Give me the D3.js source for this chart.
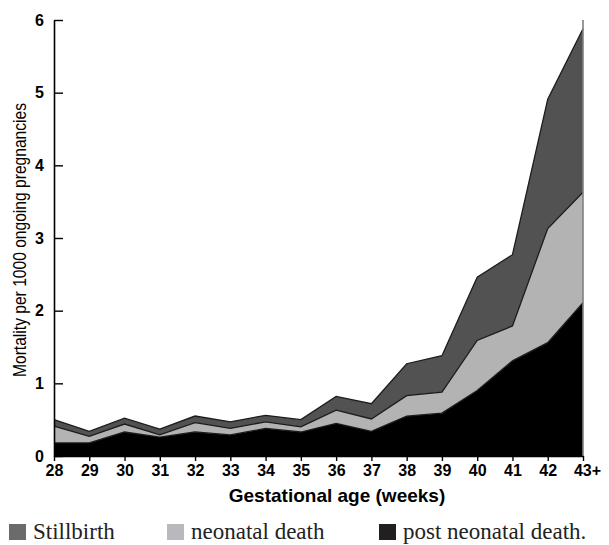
<!DOCTYPE html>
<html>
<head>
<meta charset="utf-8">
<script src="https://cdn.jsdelivr.net/npm/d3@7"></script>
<style>
  body { margin: 0; background: #fff; }
  svg { display: block; }
</style>
</head>
<body>
<div id="chart"></div>
<script>
// gestational age categories (x axis)
var weeks = ["28","29","30","31","32","33","34","35","36","37","38","39","40","41","42","43+"];

// mortality per 1000 ongoing pregnancies
var postNeonatal = [0.18,0.18,0.33,0.26,0.33,0.29,0.38,0.33,0.45,0.34,0.55,0.59,0.90,1.31,1.56,2.11];
var neonatal     = [0.23,0.09,0.11,0.03,0.13,0.09,0.09,0.07,0.18,0.17,0.28,0.29,0.69,0.48,1.57,1.52];
var stillbirth   = [0.09,0.07,0.08,0.08,0.09,0.09,0.09,0.10,0.19,0.21,0.44,0.50,0.87,0.98,1.78,2.25];

var yTicks = [0,1,2,3,4,5,6];
var legendLabels = ["Stillbirth", "neonatal death", "post neonatal death."];

var width = 609, height = 545;
var x0 = 54, x1 = 583, yBase = 456, yTop = 20;

var svg = d3.select("#chart")
  .append("svg")
    .attr("width", width)
    .attr("height", height);

// build rows for the stack
var data = weeks.map(function (w, i) {
  return { week: w, post: postNeonatal[i], neo: neonatal[i], still: stillbirth[i] };
});
var keys = ["post", "neo", "still"];
var fills = { post: "#000000", neo: "#b3b3b3", still: "#525252" };

var x = d3.scalePoint().domain(weeks).range([x0, x1]);
var y = d3.scaleLinear().domain([0, 6]).range([yBase, yTop]);

var stacked = d3.stack().keys(keys)(data);

var area = d3.area()
  .x(function (d) { return x(d.data.week); })
  .y0(function (d) { return y(d[0]); })
  .y1(function (d) { return y(d[1]); });

var topLine = d3.line()
  .x(function (d) { return x(d.data.week); })
  .y(function (d) { return y(d[1]); });

svg.append("g")
  .selectAll("path")
  .data(stacked)
  .enter()
  .append("path")
    .attr("fill", function (d) { return fills[d.key]; })
    .attr("d", area);

// dark outline along each layer's upper edge
svg.append("g")
  .selectAll("path")
  .data(stacked)
  .enter()
  .append("path")
    .attr("fill", "none")
    .attr("stroke", "#1c1c1c")
    .attr("stroke-width", 1.3)
    .attr("d", topLine);

// right frame line
svg.append("line")
  .attr("x1", x1).attr("x2", x1)
  .attr("y1", yTop).attr("y2", yBase)
  .attr("stroke", "#808080")
  .attr("stroke-width", 1.6);

// x axis
var xAxis = svg.append("g")
  .attr("transform", "translate(0," + yBase + ")")
  .call(d3.axisBottom(x).tickSizeInner(5).tickSizeOuter(0).tickPadding(4));
xAxis.select(".domain").attr("stroke-width", 1.6);
xAxis.selectAll(".tick line").attr("stroke-width", 1.4);
xAxis.selectAll("text")
  .attr("font-family", "'Liberation Sans', Arial, sans-serif")
  .attr("font-weight", "bold")
  .attr("font-size", 16)
  .attr("fill", "#000")
  .attr("dx", function (d) { return d === "43+" ? 4 : 0; });

// y axis, ticks pointing inward
var yAxis = svg.append("g")
  .attr("transform", "translate(" + x0 + ",0)")
  .call(d3.axisLeft(y).tickValues(yTicks).tickFormat(d3.format("d"))
    .tickSizeInner(-9).tickSizeOuter(0).tickPadding(10));
yAxis.select(".domain").attr("stroke-width", 1.6);
yAxis.selectAll(".tick line").attr("stroke-width", 1.4);
yAxis.selectAll("text")
  .attr("font-family", "'Liberation Sans', Arial, sans-serif")
  .attr("font-weight", "bold")
  .attr("font-size", 16)
  .attr("fill", "#000");

// axis titles
svg.append("text")
  .attr("x", 337)
  .attr("y", 502)
  .attr("text-anchor", "middle")
  .attr("font-family", "'Liberation Sans', Arial, sans-serif")
  .attr("font-weight", "bold")
  .attr("font-size", 19)
  .text("Gestational age (weeks)");

// condensed look: squeeze the regular face into the measured length
svg.append("text")
  .attr("transform", "translate(26,240) rotate(-90)")
  .attr("text-anchor", "middle")
  .attr("font-family", "'Liberation Sans', Arial, sans-serif")
  .attr("font-size", 18)
  .attr("textLength", 274)
  .attr("lengthAdjust", "spacingAndGlyphs")
  .text("Mortality per 1000 ongoing pregnancies");

// legend
var legendColors = ["#6b6b6b", "#b9b9bd", "#231f20"];
var legendX = [9, 167, 379];
var legend = svg.append("g")
  .selectAll("g")
  .data(legendLabels)
  .enter()
  .append("g")
    .attr("transform", function (d, i) { return "translate(" + legendX[i] + ",0)"; });

legend.append("rect")
  .attr("x", 0)
  .attr("y", 524)
  .attr("width", 17)
  .attr("height", 16)
  .attr("fill", function (d, i) { return legendColors[i]; });

legend.append("text")
  .attr("x", 24)
  .attr("y", 539)
  .attr("font-family", "'Liberation Serif', 'Times New Roman', serif")
  .attr("font-size", 23)
  .attr("fill", "#222")
  .text(function (d) { return d; });
</script>
</body>
</html>
